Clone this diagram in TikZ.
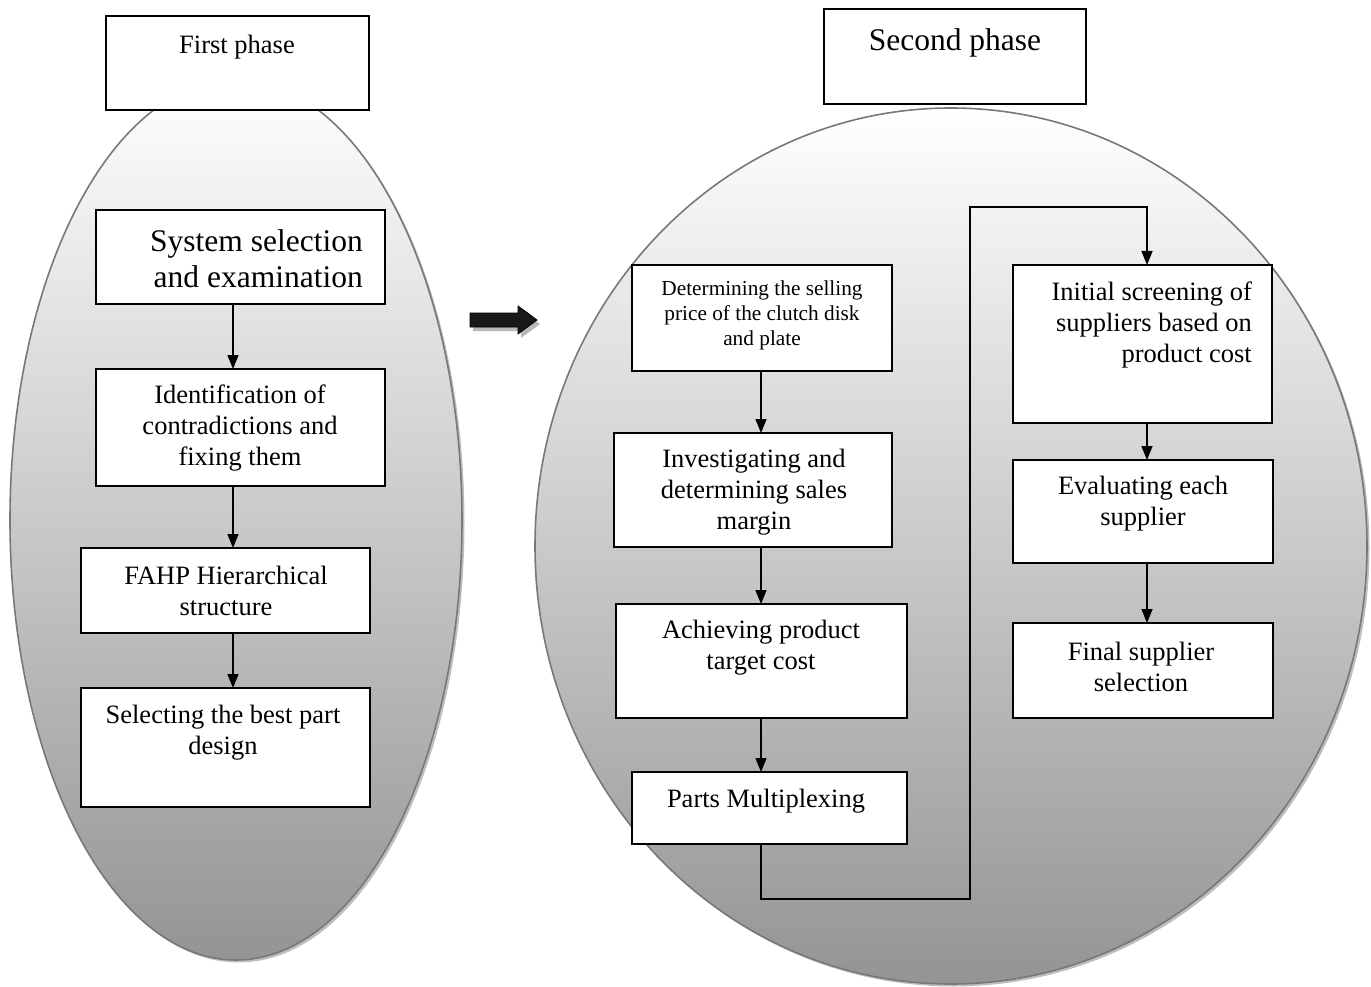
\documentclass[tikz,border=0pt]{standalone}
\usepackage{fontspec}
\setmainfont{Liberation Serif}
\usetikzlibrary{arrows.meta}
\newcommand\FontMain{\fontsize{26.5}{31}\selectfont}
\newcommand\FontBig{\fontsize{31.5}{36}\selectfont}
\newcommand\FontSmall{\fontsize{21.3}{25}\selectfont}
\tikzset{
  box/.style={draw=black, line width=1.6pt, fill=white, inner sep=0pt, outer sep=0pt, rectangle},
  txt/.style={inner sep=0pt, align=center, font=\FontMain},
  conn/.style={draw=black, line width=1.4pt, -{Triangle[length=14pt,width=11pt]}},
  oval/.style={draw={rgb,255:red,120;green,120;blue,120}, line width=1.6pt,
    top color=white, middle color={rgb,255:red,218;green,218;blue,218}, bottom color={rgb,255:red,148;green,148;blue,148}},
  ovalshadow/.style={fill={rgb,255:red,190;green,190;blue,190}},
}
\begin{document}
\begin{tikzpicture}[x=1pt,y=-1pt]
\useasboundingbox (0,0) rectangle (1371,987);
% ellipses
\fill[ovalshadow] (238.5,522.5) ellipse [x radius=226pt, y radius=440pt];
\path[oval] (236,520) ellipse [x radius=226pt, y radius=440pt];
\fill[ovalshadow] (953.5,548.5) ellipse [x radius=416pt, y radius=438pt];
\path[oval] (951,546) ellipse [x radius=416pt, y radius=438pt];

% phase titles
\node[box, minimum width=263pt, minimum height=94pt] (first) at (237.5,63) {};
\node[txt] (firstT) at (237,47) {First phase};
\node[box, minimum width=262pt, minimum height=95pt] (second) at (955,56.5) {};
\node[txt, font=\FontBig] (secondT) at (955,43) {Second phase};

% big block arrow
\fill[gray!55] (473,317) -- (521,317) -- (521,310) -- (540,324) -- (521,338) -- (521,331) -- (473,331) -- cycle;
\filldraw[fill={rgb,255:red,25;green,25;blue,25}, draw=black, line width=0.8pt]
  (470,313) -- (518,313) -- (518,306) -- (537,320) -- (518,334) -- (518,327) -- (470,327) -- cycle;

% first phase boxes
\coordinate (colA) at (233,0);
\node[box, minimum width=289pt, minimum height=94pt] (sys) at (240.5,257) {};
\node[txt, font=\FontBig, align=right, anchor=east] (sysT) at (363,259) {System selection\\and examination};
\node[box, minimum width=289pt, minimum height=117pt] (ident) at (240.5,427.5) {};
\node[txt] (identT) at (240,428) {Identification of\\contradictions and\\fixing them};
\node[box, minimum width=289pt, minimum height=85pt] (fahp) at (225.5,590.5) {};
\node[txt] (fahpT) at (226,591) {FAHP Hierarchical\\structure};
\node[box, minimum width=289pt, minimum height=119pt] (sel) at (225.5,747.5) {};
\node[txt] (selT) at (223,733) {Selecting the best part\\design};

\draw[conn] (sys.south -| colA) -- (ident.north -| colA);
\draw[conn] (ident.south -| colA) -- (fahp.north -| colA);
\draw[conn] (fahp.south -| colA) -- (sel.north -| colA);

% second phase, column 1
\coordinate (colB) at (761,0);
\node[box, minimum width=260pt, minimum height=106pt] (det) at (762,318) {};
\node[txt, font=\FontSmall] (detT) at (762,315) {Determining the selling\\price of the clutch disk\\and plate};
\node[box, minimum width=278pt, minimum height=114pt] (inv) at (753,490) {};
\node[txt] (invT) at (754,492) {Investigating and\\determining sales\\margin};
\node[box, minimum width=291pt, minimum height=114pt] (ach) at (761.5,661) {};
\node[txt] (achT) at (761,648) {Achieving product\\target cost};
\node[box, minimum width=275pt, minimum height=72pt] (parts) at (769.5,808) {};
\node[txt] (partsT) at (766,801) {Parts Multiplexing};

\draw[conn] (det.south -| colB) -- (inv.north -| colB);
\draw[conn] (inv.south -| colB) -- (ach.north -| colB);
\draw[conn] (ach.south -| colB) -- (parts.north -| colB);

% second phase, column 2
\coordinate (colC) at (1147,0);
\node[box, minimum width=259pt, minimum height=158pt] (init) at (1142.5,344) {};
\node[txt, align=right, anchor=east] (initT) at (1252,325) {Initial screening of\\suppliers based on\\product cost};
\node[box, minimum width=260pt, minimum height=103pt] (eval) at (1143,511.5) {};
\node[txt] (evalT) at (1143,504) {Evaluating each\\supplier};
\node[box, minimum width=260pt, minimum height=95pt] (final) at (1143,670.5) {};
\node[txt] (finalT) at (1141,667) {Final supplier\\selection};

\coordinate (lowR) at (970,899);
\coordinate (upR) at (970,207);
\draw[conn] (parts.south -| colB) |- (lowR) -- (upR) -| (init.north -| colC);
\draw[conn] (init.south -| colC) -- (eval.north -| colC);
\draw[conn] (eval.south -| colC) -- (final.north -| colC);
\end{tikzpicture}
\end{document}
